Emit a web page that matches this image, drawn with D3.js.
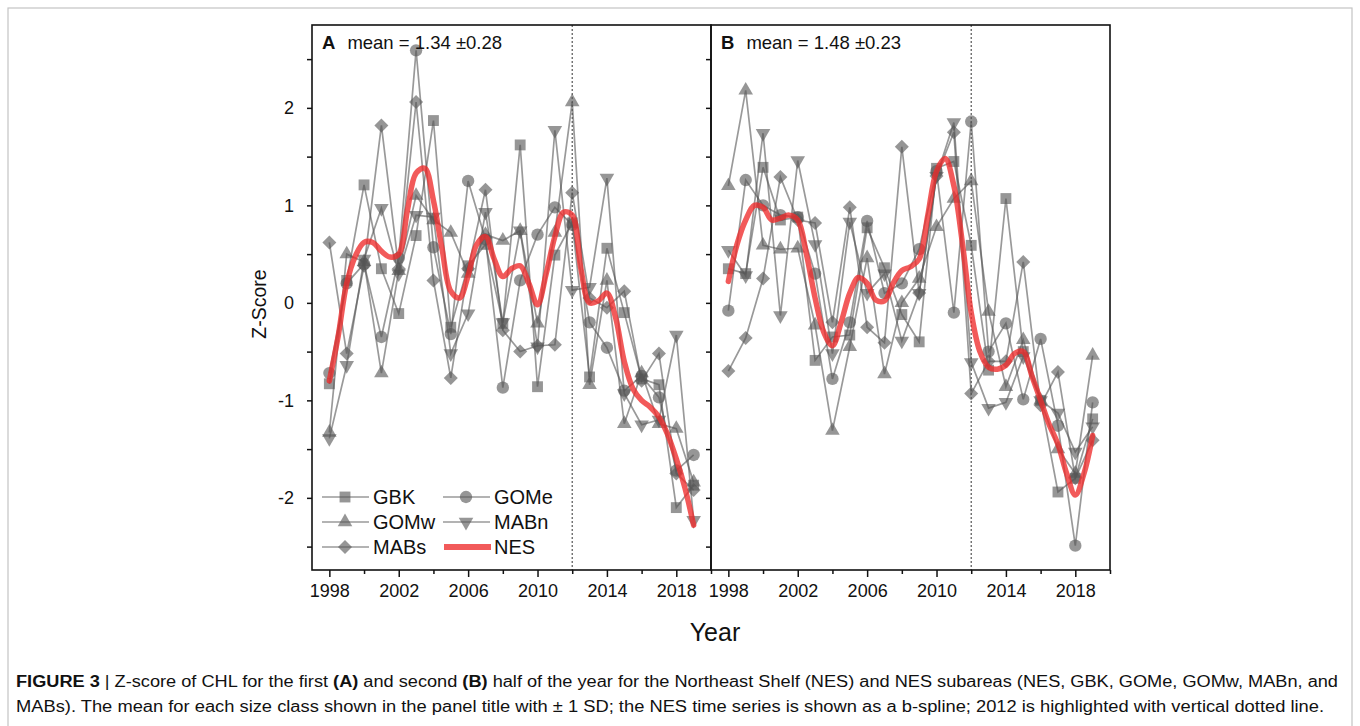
<!DOCTYPE html>
<html>
<head>
<meta charset="utf-8">
<script src="https://cdn.jsdelivr.net/npm/d3@7"></script>
<style>
  body { margin: 0; background: #fff; }
  svg { display: block; }
  text { font-family: "Liberation Sans", Arial, sans-serif; fill: #111; }
</style>
</head>
<body>
<svg width="1360" height="726"></svg>
<script>
// years of the subarea series
var years = [1998, 1999, 2000, 2001, 2002, 2003, 2004, 2005, 2006, 2007, 2008,
             2009, 2010, 2011, 2012, 2013, 2014, 2015, 2016, 2017, 2018, 2019];

// panel A - first half of the year
var gbkA  = [-0.83, 0.23, 1.21, 0.35, -0.11, 0.69, 1.87, -0.25, 0.38, 0.60, -0.21, 1.62, -0.86, 0.49, 0.82, -0.76, 0.56, -0.10, -0.78, -0.84, -2.10, -1.87];
var gomeA = [-0.72, 0.20, 0.40, -0.35, 0.46, 2.59, 0.57, -0.32, 1.25, 0.65, -0.87, 0.23, 0.70, 0.98, 0.80, -0.20, -0.46, -0.90, -0.75, -0.97, -1.72, -1.56];
var gomwA = [-1.33, 0.50, 0.42, -0.72, 0.33, 1.10, 0.85, 0.72, 0.30, 0.70, 0.64, 0.74, -0.21, 0.72, 2.06, -0.84, 0.23, -1.24, -0.72, -1.24, -1.29, -1.84];
var mabnA = [-1.39, -0.64, 0.45, 0.97, 0.30, 0.90, 0.88, -0.52, -0.11, 0.93, -0.20, 0.74, -0.45, 1.77, 0.13, 0.16, 1.28, -0.93, -1.25, -1.20, -0.33, -2.23];
var mabsA = [0.62, -0.52, 0.38, 1.82, 0.35, 2.06, 0.23, -0.77, 0.35, 1.16, -0.28, -0.50, -0.44, -0.43, 1.13, 0.05, -0.05, 0.12, -0.80, -0.52, -1.75, -1.92];

// panel B - second half of the year
var gbkB  = [0.35, 0.30, 1.39, 0.85, 0.88, -0.59, -0.35, -0.33, 0.77, 0.36, -0.12, -0.40, 1.38, 1.45, 0.59, -0.69, 1.07, -0.50, -1.00, -1.94, -1.80, -1.19];
var gomeB = [-0.08, 1.26, 1.00, 0.90, 0.88, 0.30, -0.78, -0.20, 0.84, 0.10, 0.20, 0.55, 1.35, -0.10, 1.86, -0.50, -0.21, -0.99, -0.37, -1.26, -2.49, -1.02];
var gomwB = [1.20, 2.18, 0.59, 0.55, 0.56, -0.23, -1.31, -0.45, 0.46, -0.73, 0.00, 0.25, 0.78, 1.07, 1.25, -0.09, -0.86, -0.38, -1.00, -1.50, -1.75, -0.54];
var mabnB = [0.54, 0.28, 1.74, -0.13, 1.46, 0.60, -0.52, 0.83, 0.10, 0.30, -0.39, 0.10, 1.30, 1.85, -0.61, -1.08, -1.02, -0.55, -1.00, -1.13, -1.53, -1.27];
var mabsB = [-0.70, -0.36, 0.25, 1.29, 0.85, 0.82, -0.20, 0.98, -0.25, -0.41, 1.60, 0.10, 1.30, 1.75, -0.93, -0.60, -0.60, 0.42, -1.05, -0.71, -1.80, -1.41];

// NES b-spline, every half year
var splineYears = [1998, 1998.5, 1999, 1999.5, 2000, 2000.5, 2001, 2001.5, 2002, 2002.5, 2003, 2003.5,
                   2004, 2004.5, 2005, 2005.5, 2006, 2006.5, 2007, 2007.5, 2008, 2008.5, 2009, 2009.5,
                   2010, 2010.5, 2011, 2011.5, 2012, 2012.5, 2013, 2013.5, 2014, 2014.5, 2015, 2015.5,
                   2016, 2016.5, 2017, 2017.5, 2018, 2018.5, 2019];
var nesA = [-0.80, -0.35, 0.20, 0.48, 0.62, 0.62, 0.53, 0.47, 0.50, 0.95, 1.33, 1.38,
            1.05, 0.55, 0.12, 0.05, 0.28, 0.60, 0.68, 0.45, 0.27, 0.35, 0.38, 0.20,
            -0.02, 0.30, 0.68, 0.93, 0.90, 0.35, 0.00, 0.02, 0.10, -0.15, -0.60, -0.88,
            -1.00, -1.07, -1.17, -1.35, -1.60, -1.90, -2.28];
var nesB = [0.22, 0.60, 0.85, 1.00, 0.98, 0.85, 0.87, 0.90, 0.85, 0.50, 0.05, -0.30,
            -0.44, -0.20, 0.10, 0.26, 0.20, 0.03, 0.02, 0.20, 0.33, 0.37, 0.45, 0.90,
            1.35, 1.48, 1.20, 0.60, -0.10, -0.50, -0.66, -0.68, -0.64, -0.52, -0.50, -0.75,
            -1.00, -1.25, -1.45, -1.75, -1.97, -1.75, -1.36];

var seriesNames = ["GBK", "GOMe", "GOMw", "MABn", "MABs"];
var panelTitles = [["A", "mean = 1.34 \u00b10.28"], ["B", "mean = 1.48 \u00b10.23"]];
var majorYears = [1998, 2002, 2006, 2010, 2014, 2018];
var minorYears = [2000, 2004, 2008, 2012, 2016, 2020];
var yMajor = [-2, -1, 0, 1, 2];
var yMinor = [-2.5, -1.5, -0.5, 0.5, 1.5, 2.5];
var highlightYear = 2012;

var svg = d3.select("svg");
var plotTop = 25, plotBottom = 570;
var panelLeft = [312, 711], panelWidth = 399;

// outer figure frame
svg.append("rect")
    .attr("x", 8).attr("y", 8)
    .attr("width", 1344).attr("height", 740)
    .attr("fill", "none")
    .attr("stroke", "#c4c4c4")
    .attr("stroke-width", 1.2);

var yScale = d3.scaleLinear()
    .domain([-2.74, 2.85])
    .range([plotBottom, plotTop]);

// shape of each subarea marker
var symbols = {
    GBK:  d3.symbol().type(d3.symbolSquare).size(118),
    GOMe: d3.symbol().type(d3.symbolCircle).size(120),
    GOMw: d3.symbol().type(d3.symbolTriangle).size(92),
    MABn: d3.symbol().type(d3.symbolTriangle).size(92),
    MABs: d3.symbol().type(d3.symbolSquare).size(98)
};
var rotate = {GBK: 0, GOMe: 0, GOMw: 0, MABn: 180, MABs: 45};

var panels = [
    {series: [gbkA, gomeA, gomwA, mabnA, mabsA], nes: nesA},
    {series: [gbkB, gomeB, gomwB, mabnB, mabsB], nes: nesB}
];

panels.forEach(function (p, i) {
    var x0 = panelLeft[i];
    var xScale = d3.scaleLinear()
        .domain([1997, 2020])
        .range([x0, x0 + panelWidth]);

    var g = svg.append("g");

    // dotted line for 2012
    g.append("line")
        .attr("x1", xScale(highlightYear)).attr("x2", xScale(highlightYear))
        .attr("y1", plotTop).attr("y2", plotBottom)
        .attr("stroke", "#555")
        .attr("stroke-width", 1.2)
        .attr("stroke-dasharray", "2,2");

    var line = d3.line()
        .x(function (d) { return xScale(d[0]); })
        .y(function (d) { return yScale(d[1]); });

    p.series.forEach(function (vals, k) {
        var name = seriesNames[k];
        var pts = years.map(function (yr, j) { return [yr, vals[j]]; });
        g.append("path")
            .datum(pts)
            .attr("d", line)
            .attr("fill", "none")
            .attr("stroke", "#555")
            .attr("stroke-opacity", 0.6)
            .attr("stroke-width", 1.7);
        g.selectAll(null)
            .data(pts)
            .enter()
            .append("path")
            .attr("d", symbols[name])
            .attr("transform", function (d) {
                return "translate(" + xScale(d[0]) + "," + yScale(d[1]) + ") rotate(" + rotate[name] + ")";
            })
            .attr("fill", "#555")
            .attr("fill-opacity", 0.62);
    });

    // NES spline
    var spline = d3.line()
        .curve(d3.curveCatmullRom.alpha(0.5))
        .x(function (d) { return xScale(d[0]); })
        .y(function (d) { return yScale(d[1]); });
    g.append("path")
        .datum(splineYears.map(function (yr, j) { return [yr, p.nes[j]]; }))
        .attr("d", spline)
        .attr("fill", "none")
        .attr("stroke", "#ee2b2b")
        .attr("stroke-opacity", 0.78)
        .attr("stroke-width", 5.5)
        .attr("stroke-linecap", "round");

    // axes
    var xMajor = d3.axisBottom(xScale).tickValues(majorYears).tickSize(7).tickPadding(7)
        .tickSizeOuter(0).tickFormat(d3.format("d"));
    var xMinorAxis = d3.axisBottom(xScale).tickValues(minorYears).tickSize(4)
        .tickSizeOuter(0).tickFormat("");
    var gx = svg.append("g").attr("transform", "translate(0," + plotBottom + ")").call(xMajor);
    var gxm = svg.append("g").attr("transform", "translate(0," + plotBottom + ")").call(xMinorAxis);

    var yAxis = d3.axisLeft(yScale).tickValues(yMajor.concat(yMinor)).tickSize(5).tickPadding(13)
        .tickSizeOuter(0)
        .tickFormat(function (d) { return (i === 0 && yMajor.indexOf(d) >= 0) ? String(d) : ""; });
    var gy = svg.append("g").attr("transform", "translate(" + x0 + ",0)").call(yAxis);

    [gx, gxm, gy].forEach(function (a) {
        a.select(".domain").remove();
        a.selectAll(".tick line").attr("stroke", "#111").attr("stroke-width", 1.5);
        a.selectAll("text")
            .attr("font-family", "'Liberation Sans', Arial, sans-serif")
            .attr("font-size", 18)
            .attr("fill", "#111");
    });

    // panel box
    svg.append("rect")
        .attr("x", x0).attr("y", plotTop)
        .attr("width", panelWidth).attr("height", plotBottom - plotTop)
        .attr("fill", "none")
        .attr("stroke", "#111")
        .attr("stroke-width", 1.6);

    // panel title
    var t = svg.append("text")
        .attr("x", x0 + 10).attr("y", 49)
        .attr("font-size", 18.5);
    t.append("tspan").attr("font-weight", "bold").text(panelTitles[i][0]);
    t.append("tspan").attr("dx", 12).text(panelTitles[i][1]);
});

// axis titles
svg.append("text")
    .attr("transform", "translate(266,304) rotate(-90)")
    .attr("text-anchor", "middle")
    .attr("font-size", 19.5)
    .text("Z-Score");
svg.append("text")
    .attr("x", 715).attr("y", 641)
    .attr("text-anchor", "middle")
    .attr("font-size", 25)
    .text("Year");

// legend
var legendRows = [["GBK", "GOMe"], ["GOMw", "MABn"], ["MABs", "NES"]];
var legendX = [322, 443], legendY = [497, 522, 547];
legendRows.forEach(function (row, r) {
    row.forEach(function (name, c) {
        var lx = legendX[c], ly = legendY[r];
        if (name === "NES") {
            svg.append("line")
                .attr("x1", lx + 1).attr("x2", lx + 48)
                .attr("y1", ly).attr("y2", ly)
                .attr("stroke", "#ee2b2b").attr("stroke-opacity", 0.78)
                .attr("stroke-width", 6);
        } else {
            svg.append("line")
                .attr("x1", lx).attr("x2", lx + 47)
                .attr("y1", ly).attr("y2", ly)
                .attr("stroke", "#555").attr("stroke-opacity", 0.6)
                .attr("stroke-width", 1.7);
            svg.append("path")
                .attr("d", symbols[name])
                .attr("transform", "translate(" + (lx + 23) + "," + ly + ") rotate(" + rotate[name] + ")")
                .attr("fill", "#555").attr("fill-opacity", 0.62);
        }
        svg.append("text")
            .attr("x", lx + 51).attr("y", ly + 7)
            .attr("font-size", 20)
            .text(name);
    });
});

// caption
var cap1 = svg.append("text")
    .attr("x", 16).attr("y", 687)
    .attr("font-family", "'Liberation Sans Narrow', 'Arial Narrow', 'Liberation Sans', sans-serif")
    .attr("font-size", 16)
    .attr("textLength", 1322)
    .attr("lengthAdjust", "spacingAndGlyphs");
cap1.append("tspan").attr("font-weight", "bold").text("FIGURE 3 ");
cap1.append("tspan").text("| Z-score of CHL for the first ");
cap1.append("tspan").attr("font-weight", "bold").text("(A)");
cap1.append("tspan").text(" and second ");
cap1.append("tspan").attr("font-weight", "bold").text("(B)");
cap1.append("tspan").text(" half of the year for the Northeast Shelf (NES) and NES subareas (NES, GBK, GOMe, GOMw, MABn, and");

svg.append("text")
    .attr("x", 16).attr("y", 712)
    .attr("font-family", "'Liberation Sans Narrow', 'Arial Narrow', 'Liberation Sans', sans-serif")
    .attr("font-size", 16)
    .attr("textLength", 1308)
    .attr("lengthAdjust", "spacingAndGlyphs")
    .text("MABs). The mean for each size class shown in the panel title with \u00b1 1 SD; the NES time series is shown as a b-spline; 2012 is highlighted with vertical dotted line.");
</script>
</body>
</html>
